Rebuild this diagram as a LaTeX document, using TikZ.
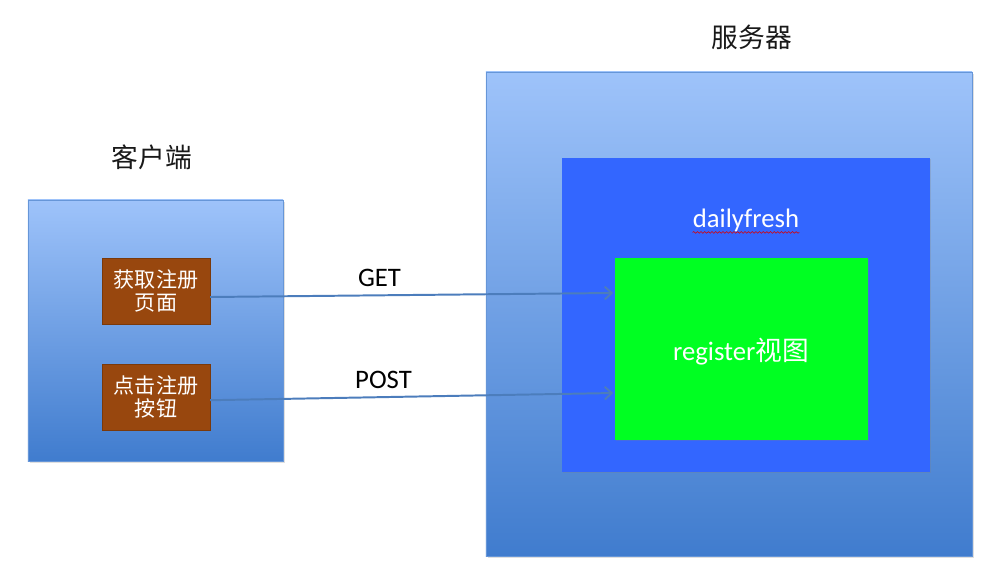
\documentclass[tikz,border=0pt]{standalone}
\usepackage{fontspec}
\setmainfont{Carlito}
\newfontfamily\cjk{Noto Sans CJK SC}
\usetikzlibrary{arrows.meta,shadows,decorations.pathmorphing}
\definecolor{boxtop}{RGB}{158,195,250}
\definecolor{boxbottom}{RGB}{64,124,206}
\definecolor{appblue}{RGB}{51,102,255}
\definecolor{viewgreen}{RGB}{0,255,34}
\definecolor{btnbrown}{RGB}{152,71,14}
\definecolor{linkblue}{RGB}{76,125,188}

\begin{document}
\begin{tikzpicture}[x=0.025cm, y=-0.025cm,
        machine/.style={rectangle, draw=boxbottom!80, line width=0.4pt, top color=boxtop, bottom color=boxbottom, drop shadow={shadow xshift=1.5pt, shadow yshift=-1.5pt, opacity=0.25}},
        inner/.style={rectangle, draw=none, drop shadow={shadow xshift=1pt, shadow yshift=-1pt, opacity=0.25}},
        button/.style={rectangle, fill=btnbrown, draw=btnbrown!80!black, line width=0.3pt, minimum width=2.7cm, minimum height=1.65cm, align=center, text=white, font=\cjk\fontsize{15}{16.5}\selectfont, drop shadow={shadow xshift=1pt, shadow yshift=-1pt, opacity=0.3}},
        title/.style={font=\cjk\fontsize{19}{22}\selectfont, text=black!90},
        arrow/.style={-{Straight Barb[length=5pt, width=9pt]}, linkblue, line width=1.4pt},
        verb/.style={font=\fontsize{19}{22}\selectfont, text=black}
    ]
        \useasboundingbox (0,0) rectangle (995,579);

        % Client side
        \node[machine, minimum width=6.375cm, minimum height=6.525cm] (client) at (155.5,330.5) {};
        \node[title] (clienttitle) at (152,157) {客户端};
        \node[button] (fetchbtn) at (156,291) {获取注册\\页面};
        \node[button] (submitbtn) at (156,397) {点击注册\\按钮};

        % Server side
        \node[machine, minimum width=12.15cm, minimum height=12.1cm] (server) at (729,314) {};
        \node[title] (servertitle) at (752,37) {服务器};
        \node[inner, fill=appblue, minimum width=9.2cm, minimum height=7.85cm] (app) at (746,315) {};
        \node[verb, text=white, inner sep=0pt] (applabel) at (746,220) {dailyfresh};
        \draw[red!85!black, line width=0.4pt, decorate, decoration={snake, amplitude=0.6pt, segment length=2.6pt}]
            ([yshift=-0.5pt]applabel.south west) -- ([yshift=-0.5pt]applabel.south east);
        \node[inner, fill=viewgreen, minimum width=6.325cm, minimum height=4.55cm] (view) at (741.5,349) {};
        \node[verb, text=white] (viewlabel) at (741,352) {register{\cjk 视图}};

        % Requests
        \draw[arrow] ([yshift=-0.15cm]fetchbtn.east) -- node[verb, above, pos=0.42, yshift=2pt] {GET} ([yshift=1.4cm, xshift=-1pt]view.west);
        \draw[arrow] ([yshift=-0.08cm]submitbtn.east) -- node[verb, above, pos=0.43, yshift=2pt] {POST} ([yshift=-1.1cm, xshift=-1pt]view.west);

    \end{tikzpicture}
\end{document}
